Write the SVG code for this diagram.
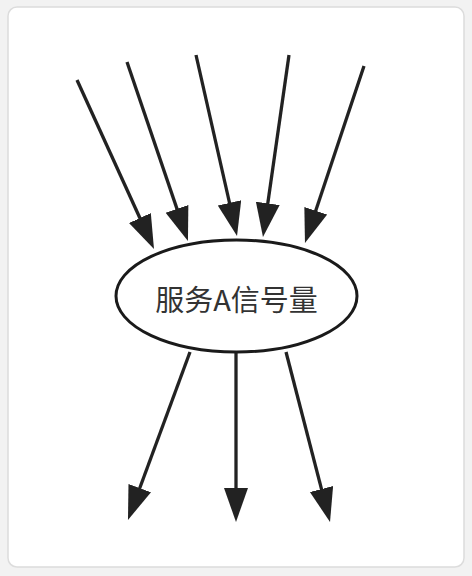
<svg xmlns="http://www.w3.org/2000/svg" width="472" height="576" viewBox="0 0 472 576">
<style>
.edge{stroke:#222;stroke-width:3.3;fill:none;marker-end:url(#ah)}
.node{fill:#fff;stroke:#1a1a1a;stroke-width:3}
.lbl{font-family:"Noto Sans CJK SC","Liberation Sans",sans-serif;font-size:29px;fill:#333;text-anchor:middle;dominant-baseline:central}
</style>
<defs>
<marker id="ah" markerUnits="userSpaceOnUse" markerWidth="40" markerHeight="30" refX="14" refY="12" orient="auto" viewBox="0 0 40 30">
<path d="M0,0 L34,12 L0,24 z" fill="#222"/>
</marker>
</defs>
<rect x="0" y="0" width="472" height="576" fill="#f2f2f2"/>
<rect x="8" y="7" width="456" height="560" rx="9" fill="#fff" stroke="#dcdcdc" stroke-width="1.5"/>
<g id="connectors">
<line class="edge" x1="77" y1="80" x2="145.7" y2="230.8"/>
<line class="edge" x1="127" y1="62" x2="181.5" y2="222.1"/>
<line class="edge" x1="196" y1="55" x2="232.6" y2="216.5"/>
<line class="edge" x1="289" y1="55" x2="265.8" y2="217.2"/>
<line class="edge" x1="364" y1="66" x2="311.3" y2="224"/>
<line class="edge" x1="190" y1="352" x2="134.9" y2="501.2"/>
<line class="edge" x1="236" y1="353" x2="236" y2="502"/>
<line class="edge" x1="286" y1="352" x2="325" y2="502.6"/>
</g>
<g id="node-semaphore">
<ellipse class="node" cx="236.5" cy="296" rx="120.5" ry="56"/>
<text class="lbl" x="236.5" y="298">服务A信号量</text>
</g>
</svg>
